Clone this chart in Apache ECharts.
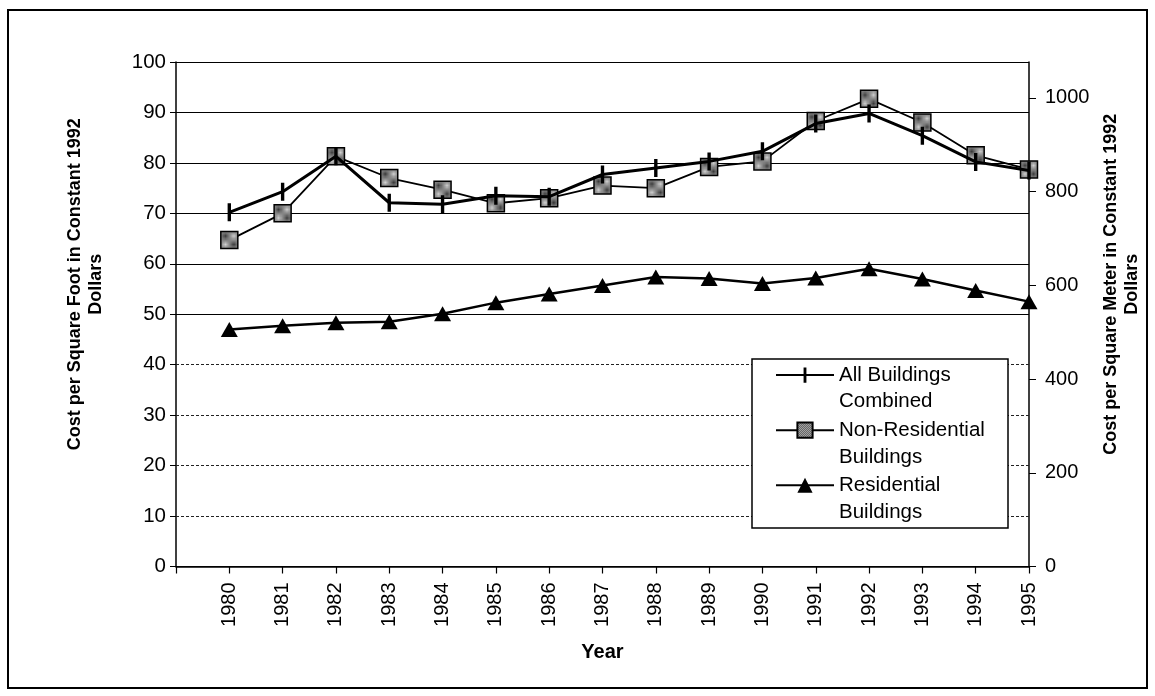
<!DOCTYPE html>
<html>
<head>
<meta charset="utf-8">
<title>Cost per square foot</title>
<script src="https://cdn.jsdelivr.net/npm/echarts@6/dist/echarts.min.js"></script>
<style>
  html, body { margin: 0; padding: 0; background: #fff; }
  #chart { width: 1155px; height: 696px; }
</style>
</head>
<body>
<div id="chart"></div>
<script>
// first slot is empty: the plot starts one step before 1980
var years = ['', '1980', '1981', '1982', '1983', '1984', '1985', '1986', '1987',
             '1988', '1989', '1990', '1991', '1992', '1993', '1994', '1995'];
var allBuildings   = [null, 70.2, 74.3, 81.3, 72.1, 71.8, 73.5, 73.3, 77.7, 79.0, 80.3, 82.3, 87.8, 89.8, 85.4, 80.2, 78.5];
var nonResidential = [null, 64.7, 70.0, 81.3, 77.0, 74.7, 72.0, 73.0, 75.5, 75.0, 79.2, 80.3, 88.3, 92.7, 88.0, 81.5, 78.7];
var residential    = [null, 47.0, 47.7, 48.3, 48.5, 50.1, 52.3, 54.0, 55.7, 57.4, 57.1, 56.1, 57.2, 59.0, 57.0, 54.7, 52.5];
var dottedGrid = [10, 20, 30, 40];
var meterTicks = [0, 200, 400, 600, 800, 1000];
var sqftToSqm = 10.7639;

var FONT = 'Arial, "Liberation Sans", sans-serif';

// stippled grey fill for the square markers
var pat = document.createElement('canvas');
pat.width = 2; pat.height = 2;
var pctx = pat.getContext('2d');
pctx.fillStyle = '#d0d0d0';
pctx.fillRect(0, 0, 2, 2);
pctx.fillStyle = '#3a3a3a';
pctx.fillRect(0, 0, 1, 1);
pctx.fillRect(1, 1, 1, 1);

// vertical bar in a square box (tiny dots widen the box so it does not get stretched)
var barSymbol = 'path://M6.5,0h3v16h-3zM0,8h0.01v0.01h-0.01zM16,8h0.01v0.01h-0.01z';

var myChart = echarts.init(document.getElementById('chart'), null, { renderer: 'canvas' });

var option = {
    backgroundColor: '#fff',
    animation: false,
    textStyle: { fontFamily: FONT, color: '#000' },
    grid: { left: 176, right: 126, top: 62, bottom: 129.5, containLabel: false, outerBoundsMode: 'none' },
    graphic: [{
        type: 'rect',
        silent: true,
        shape: { x: 8, y: 10, width: 1139, height: 678 },
        style: { fill: 'none', stroke: '#000', lineWidth: 2 }
    }, {
        type: 'rect',
        silent: true,
        z: 20,
        shape: { x: 752, y: 359, width: 256, height: 169 },
        style: { fill: '#fff', stroke: '#000', lineWidth: 1.5 }
    }],
    legend: {
        orient: 'vertical',
        left: 775,
        top: 335,
        z: 30,
        padding: 0,
        itemGap: -25,
        itemWidth: 58,
        itemHeight: 19,
        selectedMode: false,
        // leading empty line puts the first text line level with the icon
        formatter: function (name) { return '\n' + name; },
        textStyle: { fontFamily: FONT, fontSize: 20.5, color: '#000', lineHeight: 26.7 },
        data: ['All Buildings\nCombined', 'Non-Residential\nBuildings', 'Residential\nBuildings']
    },
    xAxis: {
        type: 'category',
        data: years,
        boundaryGap: false,
        name: 'Year',
        nameLocation: 'middle',
        nameGap: 76,
        nameTextStyle: { fontFamily: FONT, fontSize: 20, fontWeight: 'bold', color: '#000' },
        axisLine: { lineStyle: { color: '#000', width: 1.5 } },
        axisTick: { show: true, length: 7, interval: 0, lineStyle: { color: '#000', width: 1.2 } },
        axisLabel: { interval: 0, rotate: 90, margin: 16, fontSize: 20, color: '#000', fontFamily: FONT },
        splitLine: { show: false }
    },
    yAxis: [{
        type: 'value',
        min: 0,
        max: 100,
        interval: 10,
        position: 'left',
        name: 'Cost per Square Foot in Constant 1992\nDollars',
        nameLocation: 'middle',
        nameGap: 69,
        nameTextStyle: { fontFamily: FONT, fontSize: 18, fontWeight: 'bold', color: '#000', lineHeight: 21, padding: [0, 0, 0, 60] },
        axisLine: { show: true, lineStyle: { color: '#000', width: 1.5 } },
        axisTick: { show: true, length: 6, lineStyle: { color: '#000' } },
        axisLabel: { margin: 10, fontSize: 20.5, color: '#000', fontFamily: FONT },
        splitLine: {
            show: true,
            lineStyle: {
                width: 1.2,
                // 10-40 are drawn dotted by the markLine below
                color: ['#000', 'transparent', 'transparent', 'transparent', 'transparent',
                        '#000', '#000', '#000', '#000', '#000', '#000']
            }
        }
    }, {
        type: 'value',
        min: 0,
        max: 100 * sqftToSqm,
        position: 'right',
        name: 'Cost per Square Meter in Constant 1992\nDollars',
        nameLocation: 'middle',
        nameGap: 71,
        nameTextStyle: { fontFamily: FONT, fontSize: 18, fontWeight: 'bold', color: '#000', lineHeight: 21, padding: [0, 0, 0, 60] },
        axisLine: { show: true, lineStyle: { color: '#000', width: 1.5 } },
        axisTick: { show: true, length: 7, customValues: meterTicks, lineStyle: { color: '#000' } },
        axisLabel: {
            margin: 16, fontSize: 20, color: '#000', fontFamily: FONT, customValues: meterTicks,
            formatter: function (v) { return String(v); }
        },
        splitLine: { show: false }
    }],
    series: [{
        name: 'All Buildings\nCombined',
        type: 'line',
        data: allBuildings,
        z: 4,
        symbol: barSymbol,
        symbolSize: 18,
        lineStyle: { color: '#000', width: 3 },
        itemStyle: { color: '#000' },
        markLine: {
            silent: true,
            symbol: 'none',
            label: { show: false },
            lineStyle: { color: '#222', width: 1.2, type: [3, 2] },
            data: dottedGrid.map(function (v) { return { yAxis: v }; })
        }
    }, {
        name: 'Non-Residential\nBuildings',
        type: 'line',
        data: nonResidential,
        z: 3,
        symbol: 'rect',
        symbolSize: 17,
        lineStyle: { color: '#000', width: 1.8 },
        itemStyle: { color: { image: pat, repeat: 'repeat' }, borderColor: '#000', borderWidth: 1.5 }
    }, {
        name: 'Residential\nBuildings',
        type: 'line',
        data: residential,
        z: 3,
        symbol: 'triangle',
        symbolSize: [17, 15],
        lineStyle: { color: '#000', width: 2.5 },
        itemStyle: { color: '#000' }
    }]
};

myChart.setOption(option);
</script>
</body>
</html>
